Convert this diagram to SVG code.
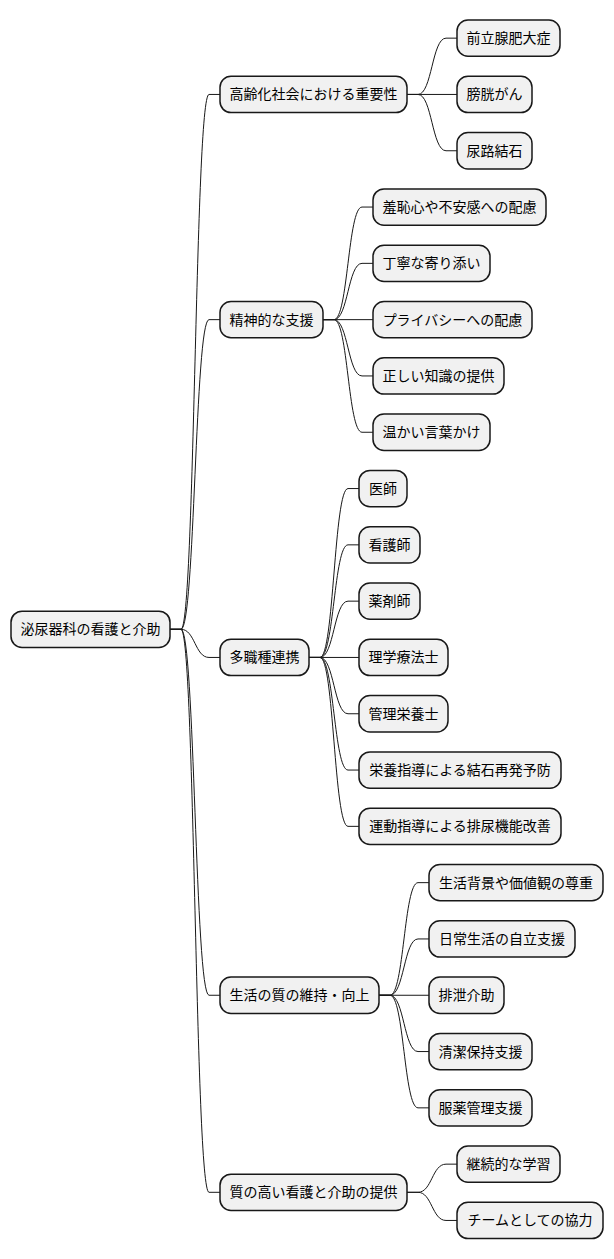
<svg xmlns="http://www.w3.org/2000/svg" width="614" height="1259" viewBox="0 0 614 1259">
<style>
.n rect{fill:#F1F1F1;stroke:#181818;stroke-width:1.5}
.n text{font-family:"Noto Sans CJK JP","Noto Sans CJK SC",sans-serif;font-size:14px;fill:#000;text-anchor:middle}
#links path{fill:none;stroke:#181818;stroke-width:1}
</style>
<rect width="614" height="1259" fill="#FFFFFF"/>
<g id="links">
<path d="M170,629.3 L181,629.3 C195,629.3 195,94.45 209,94.45 L220,94.45"/>
<path d="M170,629.3 L181,629.3 C195,629.3 195,319.65 209,319.65 L220,319.65"/>
<path d="M170,629.3 L181,629.3 C195,629.3 195,657.45 209,657.45 L220,657.45"/>
<path d="M170,629.3 L181,629.3 C195,629.3 195,995.25 209,995.25 L220,995.25"/>
<path d="M170,629.3 L181,629.3 C195,629.3 195,1192.3 209,1192.3 L220,1192.3"/>
<path d="M407,94.45 L418,94.45 C432,94.45 432,38.15 446,38.15 L457,38.15"/>
<path d="M407,94.45 L457,94.45"/>
<path d="M407,94.45 L418,94.45 C432,94.45 432,150.75 446,150.75 L457,150.75"/>
<path d="M323,319.65 L334,319.65 C348,319.65 348,207.05 362,207.05 L373,207.05"/>
<path d="M323,319.65 L334,319.65 C348,319.65 348,263.35 362,263.35 L373,263.35"/>
<path d="M323,319.65 L373,319.65"/>
<path d="M323,319.65 L334,319.65 C348,319.65 348,375.95 362,375.95 L373,375.95"/>
<path d="M323,319.65 L334,319.65 C348,319.65 348,432.25 362,432.25 L373,432.25"/>
<path d="M309,657.45 L320,657.45 C334,657.45 334,488.55 348,488.55 L359,488.55"/>
<path d="M309,657.45 L320,657.45 C334,657.45 334,544.85 348,544.85 L359,544.85"/>
<path d="M309,657.45 L320,657.45 C334,657.45 334,601.15 348,601.15 L359,601.15"/>
<path d="M309,657.45 L359,657.45"/>
<path d="M309,657.45 L320,657.45 C334,657.45 334,713.75 348,713.75 L359,713.75"/>
<path d="M309,657.45 L320,657.45 C334,657.45 334,770.05 348,770.05 L359,770.05"/>
<path d="M309,657.45 L320,657.45 C334,657.45 334,826.35 348,826.35 L359,826.35"/>
<path d="M379,995.25 L390,995.25 C404,995.25 404,882.65 418,882.65 L429,882.65"/>
<path d="M379,995.25 L390,995.25 C404,995.25 404,938.95 418,938.95 L429,938.95"/>
<path d="M379,995.25 L429,995.25"/>
<path d="M379,995.25 L390,995.25 C404,995.25 404,1051.55 418,1051.55 L429,1051.55"/>
<path d="M379,995.25 L390,995.25 C404,995.25 404,1107.85 418,1107.85 L429,1107.85"/>
<path d="M407,1192.3 L418,1192.3 C432,1192.3 432,1164.15 446,1164.15 L457,1164.15"/>
<path d="M407,1192.3 L418,1192.3 C432,1192.3 432,1220.45 446,1220.45 L457,1220.45"/>
</g>
<g id="root" class="n"><rect x="11" y="611.15" width="159" height="36.3" rx="11"/><text x="90.5" y="634.3">泌尿器科の看護と介助</text></g>
<g id="n_a" class="n"><rect x="220" y="76.3" width="187" height="36.3" rx="11"/><text x="313.5" y="99.45">高齢化社会における重要性</text></g>
<g id="n_a1" class="n"><rect x="457" y="20" width="103" height="36.3" rx="11"/><text x="508.5" y="43.15">前立腺肥大症</text></g>
<g id="n_a2" class="n"><rect x="457" y="76.3" width="75" height="36.3" rx="11"/><text x="494.5" y="99.45">膀胱がん</text></g>
<g id="n_a3" class="n"><rect x="457" y="132.6" width="75" height="36.3" rx="11"/><text x="494.5" y="155.75">尿路結石</text></g>
<g id="n_b" class="n"><rect x="220" y="301.5" width="103" height="36.3" rx="11"/><text x="271.5" y="324.65">精神的な支援</text></g>
<g id="n_b1" class="n"><rect x="373" y="188.9" width="173" height="36.3" rx="11"/><text x="459.5" y="212.05">羞恥心や不安感への配慮</text></g>
<g id="n_b2" class="n"><rect x="373" y="245.2" width="117" height="36.3" rx="11"/><text x="431.5" y="268.35">丁寧な寄り添い</text></g>
<g id="n_b3" class="n"><rect x="373" y="301.5" width="159" height="36.3" rx="11"/><text x="452.5" y="324.65">プライバシーへの配慮</text></g>
<g id="n_b4" class="n"><rect x="373" y="357.8" width="131" height="36.3" rx="11"/><text x="438.5" y="380.95">正しい知識の提供</text></g>
<g id="n_b5" class="n"><rect x="373" y="414.1" width="117" height="36.3" rx="11"/><text x="431.5" y="437.25">温かい言葉かけ</text></g>
<g id="n_c" class="n"><rect x="220" y="639.3" width="89" height="36.3" rx="11"/><text x="264.5" y="662.45">多職種連携</text></g>
<g id="n_c1" class="n"><rect x="359" y="470.4" width="48" height="36.3" rx="11"/><text x="383" y="493.55">医師</text></g>
<g id="n_c2" class="n"><rect x="359" y="526.7" width="61" height="36.3" rx="11"/><text x="389.5" y="549.85">看護師</text></g>
<g id="n_c3" class="n"><rect x="359" y="583" width="61" height="36.3" rx="11"/><text x="389.5" y="606.15">薬剤師</text></g>
<g id="n_c4" class="n"><rect x="359" y="639.3" width="89" height="36.3" rx="11"/><text x="403.5" y="662.45">理学療法士</text></g>
<g id="n_c5" class="n"><rect x="359" y="695.6" width="89" height="36.3" rx="11"/><text x="403.5" y="718.75">管理栄養士</text></g>
<g id="n_c6" class="n"><rect x="359" y="751.9" width="202" height="36.3" rx="11"/><text x="460" y="775.05">栄養指導による結石再発予防</text></g>
<g id="n_c7" class="n"><rect x="359" y="808.2" width="202" height="36.3" rx="11"/><text x="460" y="831.35">運動指導による排尿機能改善</text></g>
<g id="n_d" class="n"><rect x="220" y="977.1" width="159" height="36.3" rx="11"/><text x="299.5" y="1000.25">生活の質の維持・向上</text></g>
<g id="n_d1" class="n"><rect x="429" y="864.5" width="174" height="36.3" rx="11"/><text x="516" y="887.65">生活背景や価値観の尊重</text></g>
<g id="n_d2" class="n"><rect x="429" y="920.8" width="146" height="36.3" rx="11"/><text x="502" y="943.95">日常生活の自立支援</text></g>
<g id="n_d3" class="n"><rect x="429" y="977.1" width="75" height="36.3" rx="11"/><text x="466.5" y="1000.25">排泄介助</text></g>
<g id="n_d4" class="n"><rect x="429" y="1033.4" width="103" height="36.3" rx="11"/><text x="480.5" y="1056.55">清潔保持支援</text></g>
<g id="n_d5" class="n"><rect x="429" y="1089.7" width="103" height="36.3" rx="11"/><text x="480.5" y="1112.85">服薬管理支援</text></g>
<g id="n_e" class="n"><rect x="220" y="1174.15" width="187" height="36.3" rx="11"/><text x="313.5" y="1197.3">質の高い看護と介助の提供</text></g>
<g id="n_e1" class="n"><rect x="457" y="1146" width="103" height="36.3" rx="11"/><text x="508.5" y="1169.15">継続的な学習</text></g>
<g id="n_e2" class="n"><rect x="457" y="1202.3" width="146" height="36.3" rx="11"/><text x="530" y="1225.45">チームとしての協力</text></g>
</svg>
